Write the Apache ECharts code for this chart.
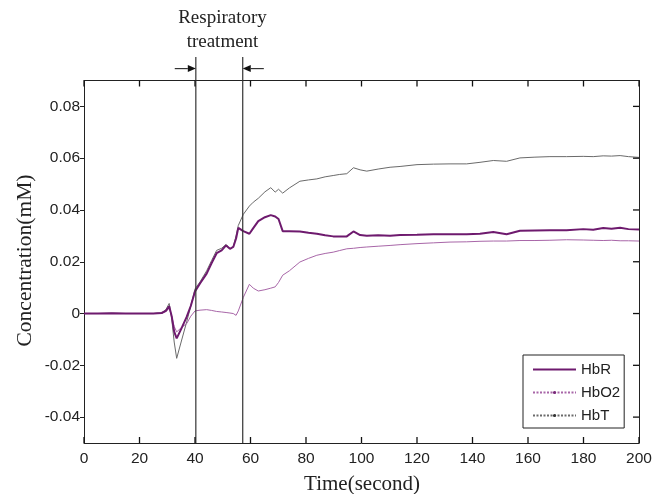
<!DOCTYPE html>
<html>
<head>
<meta charset="utf-8">
<script src="https://cdn.jsdelivr.net/npm/echarts@6/dist/echarts.min.js"></script>
<style>
  html, body { margin: 0; padding: 0; background: #fff; }
  #chart { width: 666px; height: 494px; }
</style>
</head>
<body>
<div id="chart"></div>
<script>
// time in seconds, concentration in mM
const time = [0, 5, 10, 15, 20, 25, 28, 29.5, 30.7, 31.6, 32.5, 33.4, 35, 37, 38.5, 40, 41.8, 44.2, 46, 47.8,
  49.6, 51.2, 52.6, 53.8, 54.8, 55.6, 57.4, 59.6, 61, 62.8, 65.2, 67.3, 68.9, 70.1, 71.6, 74, 77.8, 80.9, 83.9, 86.9,
  89.8, 92, 94.7, 97.1, 99.5, 101.9, 106, 110.3, 113.9, 120, 125.9, 131.9, 137.9, 142.7, 147.5, 152.3, 157.1, 162.5, 167.9, 173.9,
  179.9, 183.5, 187.1, 190.1, 193.2, 196.2, 200];

const hbr = [0, 0, 0.0001, 0, 0, 0, 0.0002, 0.001, 0.0028, -0.001, -0.007, -0.0096, -0.006, -0.0013, 0.003, 0.0085, 0.0116, 0.0154, 0.0195, 0.0233,
  0.0244, 0.0263, 0.025, 0.0257, 0.029, 0.0331, 0.0318, 0.0308, 0.033, 0.0357, 0.0372, 0.038, 0.0375, 0.0365, 0.0318, 0.0318, 0.0317, 0.0312, 0.0308, 0.0302,
  0.0298, 0.0298, 0.0298, 0.0317, 0.0303, 0.03, 0.0302, 0.03, 0.0303, 0.0304, 0.0306, 0.0306, 0.0306, 0.0308, 0.0315, 0.0306, 0.032, 0.0321, 0.0322, 0.0322,
  0.0326, 0.0324, 0.033, 0.0327, 0.0331, 0.0326, 0.0325];

const hbo2 = [0, 0, 0, 0, 0, 0, 0.0001, 0.0008, 0.002, -0.001, -0.005, -0.0071, -0.0055, -0.0039, -0.001, 0.001, 0.0013, 0.0015, 0.0012, 0.0008,
  0.0006, 0.0004, 0.0002, 0, -0.0007, 0.001, 0.0062, 0.0113, 0.0098, 0.0087, 0.0092, 0.0098, 0.0103, 0.012, 0.0148, 0.0165, 0.0199, 0.0213, 0.0225, 0.0232,
  0.0237, 0.0243, 0.025, 0.0252, 0.0255, 0.0257, 0.026, 0.0263, 0.0266, 0.027, 0.0273, 0.0276, 0.0277, 0.0279, 0.028, 0.028, 0.0282, 0.0282, 0.0283, 0.0285,
  0.0284, 0.0283, 0.0282, 0.0283, 0.0281, 0.0281, 0.028];

const hbt = [0, 0, 0.0001, 0, 0, 0, 0.0003, 0.0015, 0.0039, -0.002, -0.011, -0.0173, -0.011, -0.0032, 0.003, 0.0095, 0.0122, 0.0165, 0.0205, 0.0244,
  0.0252, 0.0267, 0.025, 0.0258, 0.03, 0.034, 0.0383, 0.0415, 0.043, 0.0445, 0.047, 0.0486, 0.0469, 0.048, 0.0465, 0.0485, 0.0511, 0.0516, 0.052, 0.0528,
  0.0533, 0.0537, 0.054, 0.0563, 0.0555, 0.055, 0.0558, 0.0565, 0.0568, 0.0575, 0.0577, 0.0578, 0.0578, 0.0584, 0.0591, 0.0588, 0.0601, 0.0604, 0.0606, 0.0606,
  0.0607, 0.0606, 0.0609, 0.0608, 0.061, 0.0606, 0.0603];

const seriesNames = ['HbR', 'HbO2', 'HbT'];
const xTicks = [0, 20, 40, 60, 80, 100, 120, 140, 160, 180, 200];
const yTicks = [-0.04, -0.02, 0, 0.02, 0.04, 0.06, 0.08];

// treatment window: [time (s), side the arrow comes from]
const treatmentMarks = [[40.3, -1], [57.2, 1]];
const lineTop = 0.0991;
const arrowY = 0.0946;
const arrowSpan = 7.6;

const xMin = 0, xMax = 200, yMin = -0.05, yMax = 0.09;

const pairs = vals => time.map((t, i) => [t, vals[i]]);

const chart = echarts.init(document.getElementById('chart'));

const tickFont = { fontFamily: 'Liberation Sans', fontSize: 15.5, color: '#222' };
const axisLineStyle = { color: '#222', width: 1 };
const markColor = '#333';
const tickLen = 6;
const tickStyle = { stroke: '#111', lineWidth: 1.3 };

function renderTreatment(params, api) {
  const t = api.value(0);
  const side = api.value(1);
  const bottom = api.coord([t, yMin]);
  const top = api.coord([t, lineTop]);
  const tip = api.coord([t, arrowY]);
  const tail = api.coord([t + side * arrowSpan, arrowY]);
  const head = 8;
  const dir = side < 0 ? 1 : -1;
  return {
    type: 'group',
    children: [
      { type: 'line', shape: { x1: bottom[0], y1: bottom[1], x2: top[0], y2: top[1] }, style: { stroke: markColor, lineWidth: 1.2 } },
      { type: 'line', shape: { x1: tail[0], y1: tail[1], x2: tip[0] - dir * head, y2: tip[1] }, style: { stroke: markColor, lineWidth: 1.2 } },
      {
        type: 'polygon',
        shape: { points: [[tip[0], tip[1]], [tip[0] - dir * head, tip[1] - 3.5], [tip[0] - dir * head, tip[1] + 3.5]] },
        style: { fill: '#111' }
      }
    ]
  };
}

// inward ticks on the bottom and top edges
function renderXTick(params, api) {
  const x = api.value(0);
  const b = api.coord([x, yMin]);
  const t = api.coord([x, yMax]);
  return {
    type: 'group',
    children: [
      { type: 'line', shape: { x1: b[0], y1: b[1], x2: b[0], y2: b[1] - tickLen }, style: tickStyle },
      { type: 'line', shape: { x1: t[0], y1: t[1], x2: t[0], y2: t[1] + tickLen }, style: tickStyle }
    ]
  };
}

// inward ticks on the right edge
function renderYTick(params, api) {
  const r = api.coord([xMax, api.value(1)]);
  return { type: 'line', shape: { x1: r[0], y1: r[1], x2: r[0] - tickLen, y2: r[1] }, style: tickStyle };
}

const option = {
  animation: false,
  backgroundColor: '#fff',
  grid: { left: 84, right: 27, top: 80.5, bottom: 51, outerBoundsMode: 'none' },
  legend: {
    orient: 'vertical',
    left: 523,
    top: 355,
    padding: [7, 4, 5, 9],
    itemWidth: 43,
    itemHeight: 4,
    itemGap: 8,
    backgroundColor: '#fff',
    borderColor: '#222',
    borderWidth: 1,
    textStyle: { fontFamily: 'Liberation Sans', fontSize: 15, color: '#222' },
    data: [
      { name: 'HbR', itemStyle: { opacity: 0 } },
      { name: 'HbO2', lineStyle: { type: [2, 1.5] } },
      { name: 'HbT', lineStyle: { type: [2, 1.5] } }
    ]
  },
  xAxis: [
    {
      type: 'value', min: xMin, max: xMax, interval: 20,
      axisLine: { onZero: false, lineStyle: axisLineStyle },
      axisTick: { show: false },
      axisLabel: { ...tickFont, margin: 8 },
      splitLine: { show: false }
    },
    {
      type: 'value', position: 'top', min: xMin, max: xMax, interval: 20,
      axisLine: { onZero: false, lineStyle: axisLineStyle },
      axisTick: { show: false },
      axisLabel: { show: false },
      splitLine: { show: false }
    }
  ],
  yAxis: [
    {
      type: 'value', min: yMin, max: yMax,
      axisLine: { show: true, onZero: false, lineStyle: axisLineStyle },
      axisTick: { show: true, inside: false, length: 4, customValues: yTicks, lineStyle: axisLineStyle },
      axisLabel: { ...tickFont, margin: 4, customValues: yTicks, formatter: v => v === 0 ? '0' : v.toFixed(2) },
      splitLine: { show: false }
    },
    {
      type: 'value', position: 'right', min: yMin, max: yMax,
      axisLine: { show: true, onZero: false, lineStyle: axisLineStyle },
      axisTick: { show: false },
      axisLabel: { show: false },
      splitLine: { show: false }
    }
  ],
  series: [
    {
      name: seriesNames[2], type: 'line', data: pairs(hbt), z: 2,
      symbol: 'circle', symbolSize: 3, showSymbol: false,
      itemStyle: { color: '#333' },
      lineStyle: { color: '#6a6a6a', width: 1 }
    },
    {
      name: seriesNames[1], type: 'line', data: pairs(hbo2), z: 3,
      symbol: 'circle', symbolSize: 3, showSymbol: false,
      itemStyle: { color: '#7a2a7a' },
      lineStyle: { color: '#a866a8', width: 1 }
    },
    {
      name: seriesNames[0], type: 'line', data: pairs(hbr), z: 4,
      symbol: 'circle', symbolSize: 3, showSymbol: false,
      itemStyle: { color: '#6e1a6e' },
      lineStyle: { color: '#6e1a6e', width: 2 }
    },
    {
      // vertical lines and arrows marking the treatment window
      name: 'treatment', type: 'custom', silent: true, clip: false, z: 5,
      encode: { x: 0, y: 1 },
      data: treatmentMarks,
      renderItem: renderTreatment
    },
    {
      name: 'xTicks', type: 'custom', silent: true, clip: false, z: 6,
      encode: { x: 0, y: 1 },
      data: xTicks.map(v => [v, yMin]),
      renderItem: renderXTick
    },
    {
      name: 'yTicks', type: 'custom', silent: true, clip: false, z: 6,
      encode: { x: 0, y: 1 },
      data: yTicks.map(v => [xMax, v]),
      renderItem: renderYTick
    }
  ],
  graphic: [
    {
      type: 'text', x: 25, y: 260.5, rotation: Math.PI / 2,
      style: { text: 'Concentration(mM)', font: '21.5px "Liberation Serif"', fill: '#222', textAlign: 'center', textVerticalAlign: 'middle', align: 'center', verticalAlign: 'middle' }
    },
    {
      type: 'text', x: 362, y: 484,
      style: { text: 'Time(second)', font: '21px "Liberation Serif"', fill: '#222', textAlign: 'center', textVerticalAlign: 'middle', align: 'center', verticalAlign: 'middle' }
    },
    {
      type: 'text', x: 222.5, y: 18,
      style: { text: 'Respiratory', font: '19px "Liberation Serif"', fill: '#222', textAlign: 'center', textVerticalAlign: 'middle', align: 'center', verticalAlign: 'middle' }
    },
    {
      type: 'text', x: 222.5, y: 42,
      style: { text: 'treatment', font: '19px "Liberation Serif"', fill: '#222', textAlign: 'center', textVerticalAlign: 'middle', align: 'center', verticalAlign: 'middle' }
    }
  ]
};

chart.setOption(option);
</script>
</body>
</html>
